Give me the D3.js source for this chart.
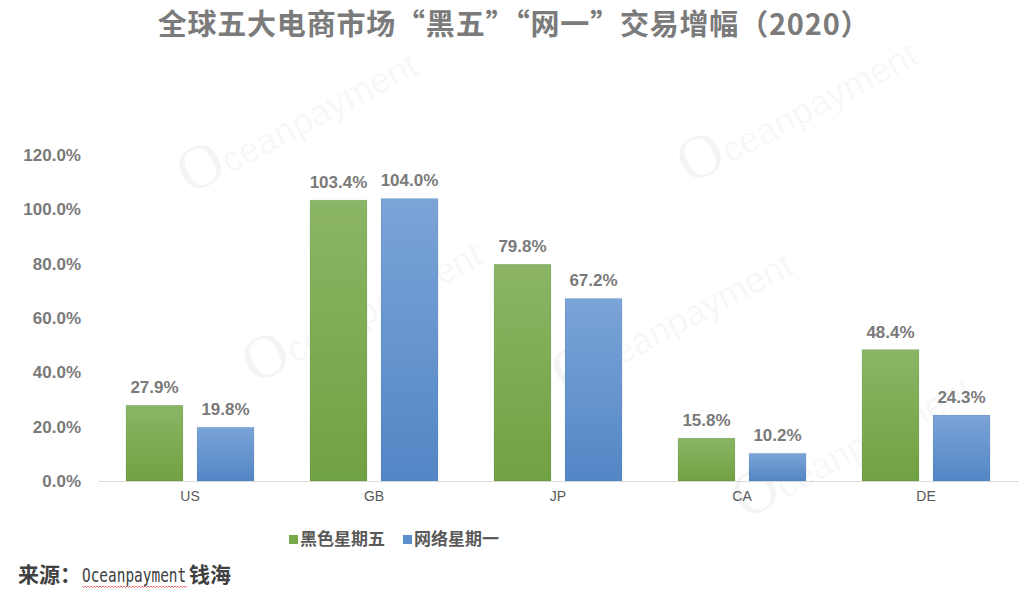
<!DOCTYPE html>
<html>
<head>
<meta charset="utf-8">
<script src="https://cdn.jsdelivr.net/npm/d3@7/dist/d3.min.js"></script>
<style>
  html, body { margin: 0; padding: 0; background: #ffffff; }
  svg { display: block; }
</style>
</head>
<body>
<svg id="chart" width="1024" height="589"></svg>
<script>
const titleText = "全球五大电商市场“黑五”“网一”交易增幅（2020）";
const categories = ["US", "GB", "JP", "CA", "DE"];
const seriesNames = ["黑色星期五", "网络星期一"];
const blackFriday = [27.9, 103.4, 79.8, 15.8, 48.4];
const cyberMonday = [19.8, 104.0, 67.2, 10.2, 24.3];
const yTicks = [0, 20, 40, 60, 80, 100, 120];
const sourcePrefix = "来源：";
const sourceBrand = "Oceanpayment";
const sourceSuffix = "钱海";
const watermarkText = "ceanpayment";

const svg = d3.select("#chart");
const W = 1024, H = 589;
const margin = { left: 98, right: 6, top: 155, bottom: 108 };
const plotBottom = H - margin.bottom; // 481

const defs = svg.append("defs");
const gGreen = defs.append("linearGradient").attr("id", "gGreen").attr("x1", 0).attr("y1", 0).attr("x2", 0).attr("y2", 1);
gGreen.append("stop").attr("offset", "0%").attr("stop-color", "#8bb566");
gGreen.append("stop").attr("offset", "100%").attr("stop-color", "#70a142");
const gBlue = defs.append("linearGradient").attr("id", "gBlue").attr("x1", 0).attr("y1", 0).attr("x2", 0).attr("y2", 1);
gBlue.append("stop").attr("offset", "0%").attr("stop-color", "#7ba4d7");
gBlue.append("stop").attr("offset", "100%").attr("stop-color", "#5386c6");
const fills = ["url(#gGreen)", "url(#gBlue)"];
const legendColors = ["#78a84c", "#5b8fd0"];

// faint watermarks (interior only)
const wmPositions = [
  [690, 185], [190, 195], [255, 385], [565, 395], [745, 520]
];
const wm = svg.append("g").attr("class", "watermarks");
wmPositions.forEach(p => {
  const t = wm.append("text")
    .attr("transform", `translate(${p[0]},${p[1]}) rotate(-28)`)
    .attr("fill", "#000").attr("fill-opacity", 0.045)
    .attr("font-family", "Liberation Sans, Arial, sans-serif")
    .attr("font-size", 36);
  t.append("tspan").attr("font-family", "Liberation Serif, serif").attr("font-size", 62).text("O");
  t.append("tspan").text(watermarkText);
});

// title
svg.append("text")
  .attr("x", 514).attr("y", 35)
  .attr("text-anchor", "middle")
  .attr("font-family", "Noto Sans CJK SC, sans-serif")
  .attr("font-weight", "bold")
  .attr("font-size", 29)
  .attr("letter-spacing", 0.8)
  .attr("fill", "#7b7b7b")
  .text(titleText);

const x0 = d3.scaleBand().domain(categories).range([margin.left, W - margin.right]).paddingInner(0).paddingOuter(0);
const x1 = d3.scaleBand().domain(seriesNames).range([0, x0.bandwidth()]).paddingInner(0.197).paddingOuter(0.394);
const y = d3.scaleLinear().domain([0, 120]).range([plotBottom, margin.top]);

// y axis labels (no line)
const yAxis = d3.axisLeft(y).tickValues(yTicks).tickSize(0).tickPadding(0).tickFormat(d => d3.format(".1f")(d) + "%");
const yg = svg.append("g").attr("transform", `translate(81,0)`).call(yAxis);
yg.select(".domain").remove();
yg.selectAll("text")
  .attr("font-family", "Liberation Sans, Arial, sans-serif")
  .attr("font-weight", "bold")
  .attr("font-size", 17)
  .attr("fill", "#7a7a7a");

// bars
const data = categories.map((c, i) => ({ cat: c, vals: [blackFriday[i], cyberMonday[i]] }));
const groups = svg.append("g").selectAll("g").data(data).join("g")
  .attr("transform", d => `translate(${x0(d.cat)},0)`);

groups.selectAll("rect").data(d => d.vals.map((v, j) => ({ v, s: seriesNames[j], j }))).join("rect")
  .attr("x", d => x1(d.s))
  .attr("y", d => y(d.v))
  .attr("width", x1.bandwidth())
  .attr("height", d => y(0) - y(d.v))
  .attr("fill", d => fills[d.j])
  .attr("stroke", "rgba(0,0,0,0.06)")
  .attr("stroke-width", 1);

groups.selectAll("text.val").data(d => d.vals.map((v, j) => ({ v, s: seriesNames[j], j }))).join("text")
  .attr("class", "val")
  .attr("x", d => x1(d.s) + x1.bandwidth() / 2)
  .attr("y", d => y(d.v) - 12)
  .attr("text-anchor", "middle")
  .attr("font-family", "Liberation Sans, Arial, sans-serif")
  .attr("font-weight", "bold")
  .attr("font-size", 17)
  .attr("fill", "#7a7a7a")
  .text(d => d3.format(".1f")(d.v) + "%");

// x axis
const xAxis = d3.axisBottom(x0).tickSize(0).tickPadding(0);
const xg = svg.append("g").attr("transform", `translate(0,${plotBottom})`).call(xAxis);
xg.select(".domain").attr("stroke", "#d9d9d9").attr("stroke-width", 1.2);
xg.selectAll("text")
  .attr("y", 20)
  .attr("dy", 0)
  .attr("font-family", "Liberation Sans, Arial, sans-serif")
  .attr("font-size", 14)
  .attr("fill", "#595959");

// legend
const legendX = [289, 403];
const lg = svg.append("g");
seriesNames.forEach((s, i) => {
  lg.append("rect").attr("x", legendX[i]).attr("y", 535).attr("width", 9).attr("height", 9).attr("fill", legendColors[i]);
  lg.append("text")
    .attr("x", legendX[i] + 11).attr("y", 545)
    .attr("font-family", "Noto Sans CJK SC, sans-serif")
    .attr("font-weight", "bold")
    .attr("font-size", 17)
    .attr("fill", "#595959")
    .text(s);
});

// source (three separate pieces)
const srcG = svg.append("g").attr("fill", "#404040");
srcG.append("text")
  .attr("x", 18).attr("y", 582)
  .attr("font-family", "Noto Sans CJK SC, sans-serif")
  .attr("font-weight", "bold")
  .attr("font-size", 21)
  .text(sourcePrefix);
srcG.append("text")
  .attr("transform", "translate(82,582) scale(0.76,1)")
  .attr("font-family", "DejaVu Sans Mono, monospace")
  .attr("font-size", 19)
  .text(sourceBrand);
srcG.append("text")
  .attr("x", 189).attr("y", 582)
  .attr("font-family", "Noto Sans CJK SC, sans-serif")
  .attr("font-weight", "bold")
  .attr("font-size", 21)
  .text(sourceSuffix);

// spell-check wavy underline
const wave = d3.path();
wave.moveTo(82, 586);
for (let xx = 82; xx < 186; xx += 3) {
  wave.lineTo(xx + 1.5, 587.5);
  wave.lineTo(xx + 3, 586);
}
svg.append("path").attr("d", wave.toString()).attr("fill", "none").attr("stroke", "#e04040").attr("stroke-width", 0.8);
</script>
</body>
</html>
